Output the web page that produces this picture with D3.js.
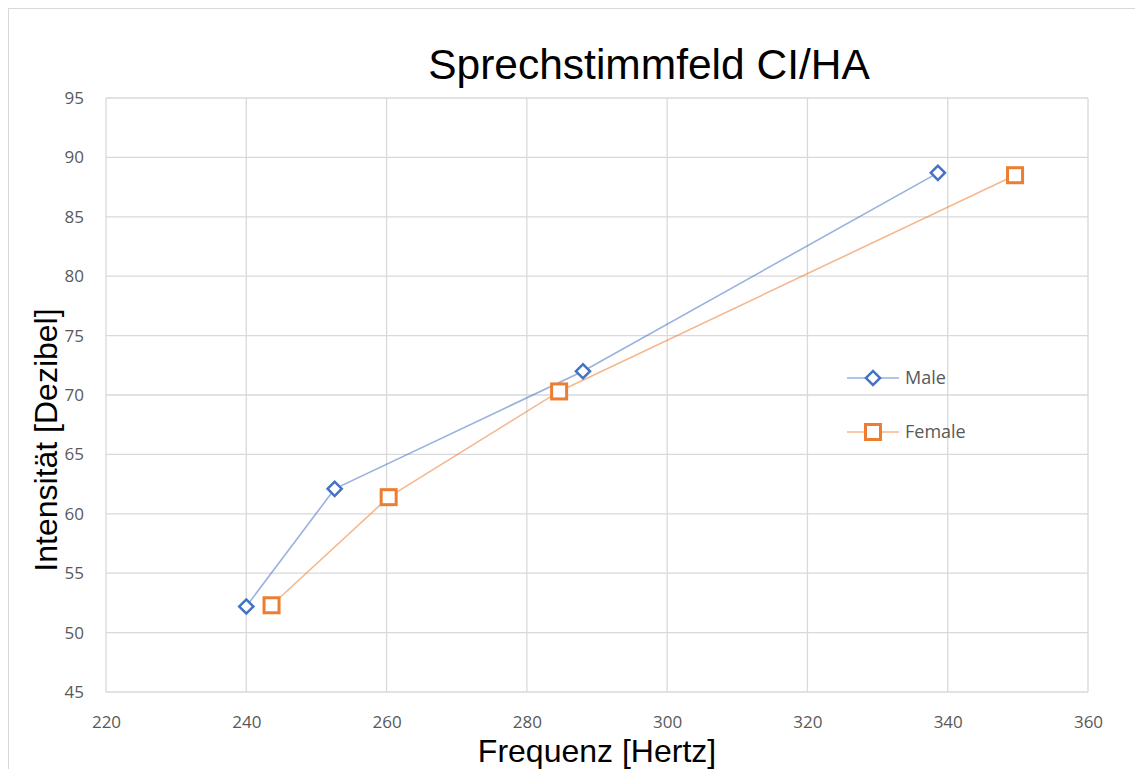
<!DOCTYPE html>
<html><head><meta charset="utf-8">
<script src="https://cdn.jsdelivr.net/npm/d3@7"></script>
<style>body{margin:0;background:#fff;}svg{display:block;}</style>
</head><body>
<script>
const maleX = [240, 252.6, 288, 338.6];
const maleY = [52.2, 62.1, 72.0, 88.7];
const femaleX = [243.6, 260.3, 284.6, 349.6];
const femaleY = [52.3, 61.4, 70.3, 88.5];
const xTicks = [220, 240, 260, 280, 300, 320, 340, 360];
const yTicks = [45, 50, 55, 60, 65, 70, 75, 80, 85, 90, 95];
const seriesNames = ["Male", "Female"];
const title = "Sprechstimmfeld CI/HA";
const xTitle = "Frequenz [Hertz]";
const yTitle = "Intensität [Dezibel]";

const W = 1135, H = 769;
const svg = d3.select("body").append("svg").attr("width", W).attr("height", H);
svg.append("rect").attr("x", 8.5).attr("y", 8.5).attr("width", W + 10).attr("height", H + 10)
  .attr("fill", "#fff").attr("stroke", "#d9d9d9");

const x = d3.scaleLinear().domain([220, 360]).range([106, 1088]);
const y = d3.scaleLinear().domain([45, 95]).range([692, 98]);

// gridlines
svg.append("g").selectAll("line").data(yTicks).join("line")
  .attr("x1", x(220)).attr("x2", x(360)).attr("y1", d => y(d)).attr("y2", d => y(d))
  .attr("stroke", "#d9d9d9").attr("stroke-width", 1.3);
svg.append("g").selectAll("line").data(xTicks).join("line")
  .attr("y1", y(45)).attr("y2", y(95)).attr("x1", d => x(d)).attr("x2", d => x(d))
  .attr("stroke", "#d9d9d9").attr("stroke-width", 1.3);

// axes (labels only)
const xAxis = d3.axisBottom(x).tickValues(xTicks).tickSize(0).tickPadding(0);
const gx = svg.append("g").attr("transform", `translate(0,${y(45) + 30})`).call(xAxis);
const yAxis = d3.axisLeft(y).tickValues(yTicks).tickSize(0).tickPadding(0);
const gy = svg.append("g").attr("transform", `translate(${x(220) - 22},0)`).call(yAxis);
[gx, gy].forEach(g => {
  g.select(".domain").remove();
  g.selectAll("text").attr("fill", "#595959").style("font-family", "'Open Sans', 'Liberation Sans', sans-serif").style("font-size", "17px");
});
gx.selectAll("text").attr("dy", "0.35em");

const colors = ["#4472C4", "#ED7D31"];
const data = [maleX.map((v, i) => [v, maleY[i]]), femaleX.map((v, i) => [v, femaleY[i]])];
const line = d3.line().x(d => x(d[0])).y(d => y(d[1]));

data.forEach((pts, si) => {
  svg.append("path").datum(pts).attr("d", line).attr("fill", "none")
    .attr("stroke", colors[si]).attr("stroke-opacity", 0.55).attr("stroke-width", 1.6);
});

function marker(g, si, cx, cy) {
  if (si === 0) {
    g.append("rect").attr("x", -5).attr("y", -5).attr("width", 10).attr("height", 10)
      .attr("transform", `translate(${cx},${cy}) rotate(45)`)
      .attr("fill", "#fff").attr("stroke", colors[0]).attr("stroke-width", 2.5);
  } else {
    g.append("rect").attr("x", cx - 7.5).attr("y", cy - 7.5).attr("width", 15).attr("height", 15)
      .attr("fill", "#fff").attr("stroke", colors[1]).attr("stroke-width", 3);
  }
}
data.forEach((pts, si) => {
  const g = svg.append("g");
  pts.forEach(p => marker(g, si, x(p[0]), y(p[1])));
});

// legend
seriesNames.forEach((name, i) => {
  const ly = 378 + i * 54;
  svg.append("line").attr("x1", 847).attr("x2", 899).attr("y1", ly).attr("y2", ly)
    .attr("stroke", colors[i]).attr("stroke-opacity", 0.55).attr("stroke-width", 1.6);
  marker(svg.append("g"), i, 873, ly);
  svg.append("text").attr("x", 905).attr("y", ly).attr("dy", "0.35em")
    .attr("fill", "#595959").style("font-family", "'Open Sans', 'Liberation Sans', sans-serif")
    .style("font-size", "18px").text(name);
});

// titles
svg.append("text").attr("x", 649).attr("y", 79).attr("text-anchor", "middle")
  .style("font-family", "'Liberation Sans', Arial, sans-serif").style("font-size", "42.5px").attr("fill", "#000").text(title);
svg.append("text").attr("x", 597).attr("y", 762).attr("text-anchor", "middle")
  .style("font-family", "'Liberation Sans', Arial, sans-serif").style("font-size", "32px").attr("fill", "#000").text(xTitle);
svg.append("text").attr("transform", "translate(57,440) rotate(-90)").attr("text-anchor", "middle")
  .style("font-family", "'Liberation Sans', Arial, sans-serif").style("font-size", "32px").attr("fill", "#000").text(yTitle);
</script>
</body></html>
